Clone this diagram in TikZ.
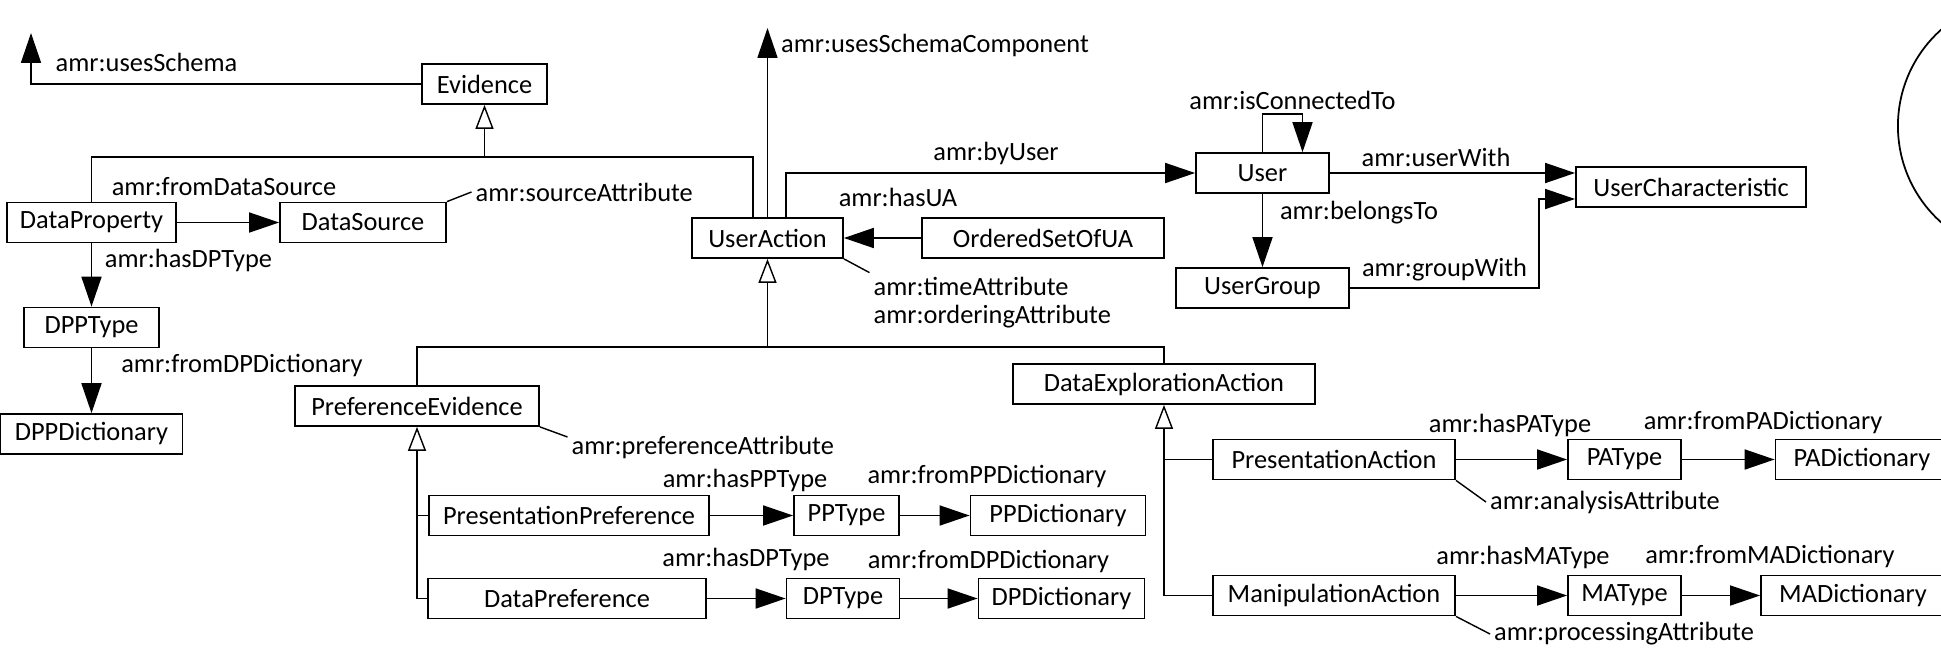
\documentclass[tikz,border=0pt]{standalone}
\usepackage{fontspec}
\setmainfont{Carlito}
\usepackage{tikz}
\usetikzlibrary{arrows.meta}

\begin{document}
\begin{tikzpicture}[x=0.01cm,y=-0.01cm,
every node/.style={font=\fontsize{7.5}{7.7}\selectfont},
cls/.style={draw,line width=0.5pt,minimum height=0.4cm,inner sep=0pt},
lbl/.style={inner sep=1pt},
link/.style={line width=0.4pt},
assoc/.style={line width=0.4pt,-{Triangle[length=8.5pt,width=5.7pt]}},
isa/.style={line width=0.4pt,-{Triangle[open,length=6.8pt,width=5.1pt,fill=white]}}]
\useasboundingbox (0,0) rectangle (1941,648);

\node[cls,minimum width=1.25cm] (evid) at (484.5,84) {Evidence};
\node[cls,minimum width=1.69cm] (dprop) at (91.5,222.5) {DataProperty};
\node[cls,minimum width=1.66cm] (dsrc) at (363,222.5) {DataSource};
\node[cls,minimum width=1.35cm] (dpptype) at (91.5,327.5) {DPPType};
\node[cls,minimum width=1.82cm] (dppdict) at (91.5,434) {DPPDictionary};
\node[cls,minimum width=1.51cm] (uact) at (767.5,238) {UserAction};
\node[cls,minimum width=2.42cm] (osua) at (1043,238) {OrderedSetOfUA};
\node[cls,minimum width=1.33cm] (user) at (1262.5,173) {User};
\node[cls,minimum width=1.73cm] (ugrp) at (1262.5,288) {UserGroup};
\node[cls,minimum width=2.30cm] (uchar) at (1691,187) {UserCharacteristic};
\node[cls,minimum width=2.44cm] (pref) at (417,406) {PreferenceEvidence};
\node[cls,minimum width=3.02cm] (dea) at (1164,384) {DataExplorationAction};
\node[cls,minimum width=2.80cm] (ppref) at (569,515.5) {PresentationPreference};
\node[cls,minimum width=1.05cm] (pptype) at (846.5,515.5) {PPType};
\node[cls,minimum width=1.75cm] (ppdict) at (1058,515.5) {PPDictionary};
\node[cls,minimum width=2.78cm] (dpref) at (567,598.5) {DataPreference};
\node[cls,minimum width=1.13cm] (dptype) at (843,598.5) {DPType};
\node[cls,minimum width=1.66cm] (dpdict) at (1061.5,598.5) {DPDictionary};
\node[cls,minimum width=2.42cm] (pact) at (1334,459.5) {PresentationAction};
\node[cls,minimum width=1.13cm] (patype) at (1624.5,459.5) {PAType};
\node[cls,minimum width=1.73cm] (padict) at (1862,459.5) {PADictionary};
\node[cls,minimum width=2.42cm] (mact) at (1334,595.5) {ManipulationAction};
\node[cls,minimum width=1.13cm] (matype) at (1624.5,595.5) {MAType};
\node[cls,minimum width=1.84cm] (madict) at (1853,595.5) {MADictionary};

\node[lbl] (usch) at (146.5,62) {amr:usesSchema};
\node[lbl] (fds) at (224,187) {amr:fromDataSource};
\node[lbl,anchor=west] (srcattr) at (471.5,192) {amr:sourceAttribute};
\node[lbl] (hdpt1) at (188.5,260) {amr:hasDPType};
\node[lbl] (fdpd1) at (242,366) {amr:fromDPDictionary};
\node[lbl] (usc) at (935,45) {amr:usesSchemaComponent};
\node[lbl] (byu) at (996,153) {amr:byUser};
\node[lbl] (hua) at (898,197) {amr:hasUA};
\node[lbl,anchor=west,align=left,font=\fontsize{7.5}{8.1}\selectfont] (tattr) at (869.5,302.5) {amr:timeAttribute\\amr:orderingAttribute};
\node[lbl] (isc) at (1292.5,100) {amr:isConnectedTo};
\node[lbl] (blt) at (1359,213) {amr:belongsTo};
\node[lbl] (uwith) at (1436,157) {amr:userWith};
\node[lbl] (gwith) at (1444.5,270) {amr:groupWith};
\node[lbl,anchor=west] (prefattr) at (567.5,447) {amr:preferenceAttribute};
\node[lbl] (hppt) at (745,480) {amr:hasPPType};
\node[lbl] (fppd) at (987,477) {amr:fromPPDictionary};
\node[lbl] (hdpt2) at (746,559) {amr:hasDPType};
\node[lbl] (fdpd2) at (988.5,561) {amr:fromDPDictionary};
\node[lbl] (hpat) at (1510,425) {amr:hasPAType};
\node[lbl] (fpad) at (1763,423) {amr:fromPADictionary};
\node[lbl,anchor=west] (anattr) at (1486,502) {amr:analysisAttribute};
\node[lbl] (hmat) at (1523,557) {amr:hasMAType};
\node[lbl] (fmad) at (1770,557) {amr:fromMADictionary};
\node[lbl,anchor=west] (procattr) at (1490,634) {amr:processingAttribute};

\coordinate (schemaend) at (31,33);
\coordinate (compend) at (767.5,28);
\coordinate (g1) at (484.5,157);
\coordinate (g2) at (767.5,347);

\draw[assoc] (evid.west) -| (schemaend);
\draw[isa] (g1) -- (evid.south);
\draw[link] (dprop.north) |- (g1) -| ([xshift=-0.145cm]uact.north);
\draw[assoc] (uact.north) -- (compend);
\draw[assoc] ([xshift=0.185cm]uact.north) |- (user.west);
\draw[assoc] (osua) -- (uact);
\draw[link] (uact.south east) -- (tattr.north west);
\draw[assoc] (dprop) -- (dsrc);
\draw[link] (dsrc.north east) -- (srcattr.west);
\draw[assoc] (dprop) -- (dpptype);
\draw[assoc] (dpptype) -- (dppdict);
\draw[assoc] (user.north) -- ++(0,-38) -| ([xshift=0.4cm]user.north);
\draw[assoc] (user) -- (ugrp);
\draw[assoc] (user.east) -- (user.east -| uchar.west);
\draw[assoc] (ugrp.east) -- ++(189,0) |- ([yshift=-0.12cm]uchar.west);
\draw[isa] (g2) -- (uact.south);
\draw[link] (pref.north) |- (g2) -| (dea.north);
\draw[link] (pref.south east) -- ([yshift=0.1cm]prefattr.west);
\draw[isa] (dpref.west) -| (pref.south);
\draw[link] (ppref.west) -- (ppref.west -| pref.south);
\draw[assoc] (ppref) -- (pptype);
\draw[assoc] (pptype) -- (ppdict);
\draw[assoc] (dpref) -- (dptype);
\draw[assoc] (dptype) -- (dpdict);
\draw[isa] (mact.west) -| (dea.south);
\draw[link] (pact.west) -- (pact.west -| dea.south);
\draw[link] (pact.south east) -- (anattr.west);
\draw[link] (mact.south east) -- (procattr.west);
\draw[assoc] (pact) -- (patype);
\draw[assoc] (patype) -- (padict);
\draw[assoc] (mact) -- (matype);
\draw[assoc] (matype) -- (madict);
\draw[line width=0.5pt] (2027,126) circle (1.29cm);
\end{tikzpicture}
\end{document}
